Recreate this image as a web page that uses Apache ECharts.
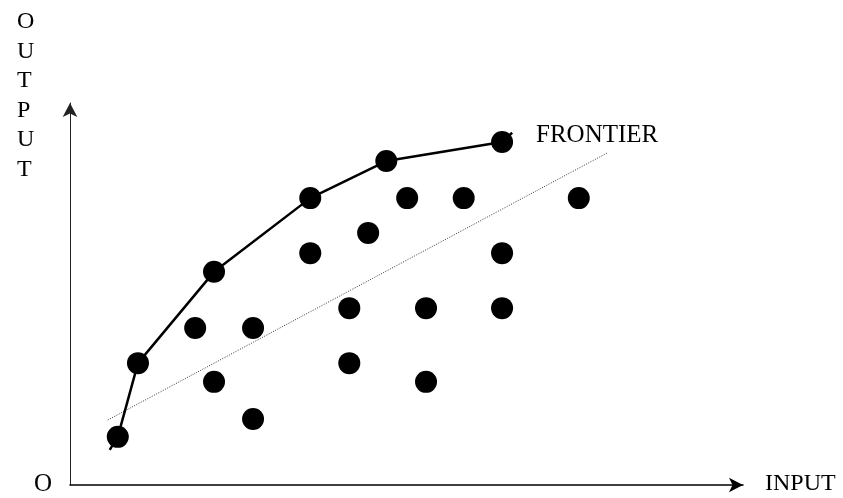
<!DOCTYPE html>
<html>
<head>
<meta charset="utf-8">
<script src="https://cdn.jsdelivr.net/npm/echarts@6/dist/echarts.min.js"></script>
<style>html,body{margin:0;padding:0;background:#fff}#c{width:843px;height:498px}</style>
</head>
<body>
<div id="c"></div>
<script>
// Frontier (efficient) units: [input, output]
const frontierPoints = [
  [7.1, 12.6], [10.1, 31.9], [21.4, 55.8], [35.7, 75.1], [47.0, 84.8], [64.2, 89.8]
];
// Frontier line path (extends slightly beyond the end units)
const frontierLine = [
  [5.9, 9.2], [7.1, 12.6], [10.1, 31.9], [21.4, 55.8], [35.7, 75.1], [47.0, 84.8], [64.2, 89.8], [65.7, 92.2]
];
// Other (inefficient) units
const otherPoints = [
  [50.1, 75.1], [58.5, 75.1], [75.6, 75.1],
  [44.3, 66.0],
  [35.7, 60.7], [64.2, 60.7],
  [41.5, 46.3], [52.9, 46.3], [64.2, 46.3],
  [18.6, 41.1], [27.2, 41.1],
  [41.5, 31.9],
  [21.4, 27.0], [52.9, 27.0],
  [27.2, 17.3]
];
// Dotted average (regression) line
const averageLine = [[5.6, 17.0], [79.8, 86.9]];

const serif = "'Liberation Serif', 'DejaVu Serif', serif";
const chart = echarts.init(document.getElementById('c'), null, {renderer: 'canvas'});
chart.setOption({
  animation: false,
  backgroundColor: '#fff',
  grid: {left: 70, top: 103, width: 673, height: 382, containLabel: false},
  xAxis: {
    type: 'value', min: 0, max: 100,
    axisLine: {show: true, onZero: false, lineStyle: {color: '#000', width: 1.5},
      symbol: ['none', 'arrow'], symbolSize: [11, 14]},
    axisTick: {show: false}, axisLabel: {show: false}, splitLine: {show: false}
  },
  yAxis: {
    type: 'value', min: 0, max: 100,
    axisLine: {show: true, onZero: false, lineStyle: {color: '#222', width: 1},
      symbol: ['none', 'arrow'], symbolSize: [11, 14]},
    axisTick: {show: false}, axisLabel: {show: false}, splitLine: {show: false}
  },
  series: [
    {
      type: 'line', data: averageLine, symbol: 'none', silent: true,
      lineStyle: {color: '#333', width: 1, type: [1, 1.5]}
    },
    {
      type: 'line', data: frontierLine, symbol: 'none', silent: true,
      lineStyle: {color: '#000', width: 2.5}
    },
    {
      type: 'scatter', data: frontierPoints, symbol: 'circle', symbolSize: 22,
      itemStyle: {color: '#000', opacity: 1}
    },
    {
      type: 'scatter', data: otherPoints, symbol: 'circle', symbolSize: 22,
      itemStyle: {color: '#000', opacity: 1}
    }
  ],
  graphic: [
    {type: 'text', left: 17, top: 7, style: {text: 'O\nU\nT\nP\nU\nT', font: '24px ' + serif, lineHeight: 29.5, fill: '#000'}},
    {type: 'text', left: 34, top: 472, style: {text: 'O', font: '25px ' + serif, fill: '#000'}},
    {type: 'text', left: 765, top: 472, style: {text: 'INPUT', font: '24px ' + serif, fill: '#000'}},
    {type: 'text', left: 536, top: 123, style: {text: 'FRONTIER', font: '25px ' + serif, fill: '#000'}}
  ]
});
</script>
</body>
</html>
